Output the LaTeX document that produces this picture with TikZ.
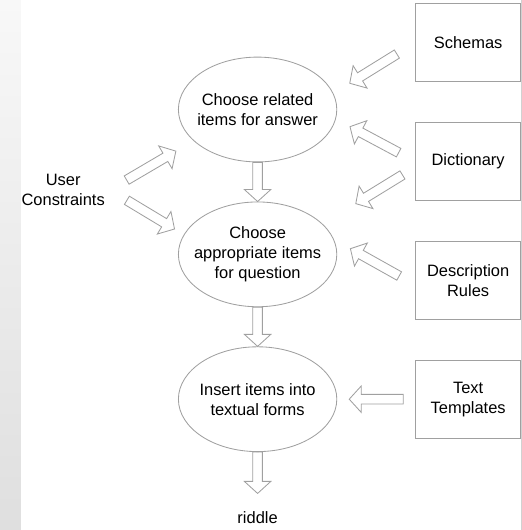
\documentclass[tikz,border=0pt]{standalone}
\usepackage{fontspec}
\setmainfont{Liberation Sans}
\usetikzlibrary{positioning,shapes.geometric,calc}

\definecolor{linegray}{HTML}{A0A0A0}
\definecolor{barlight}{HTML}{F8F8F8}
\definecolor{bardark}{HTML}{DFDFDF}

\tikzset{
  proc/.style={ellipse, draw=linegray, line width=0.6pt, minimum width=3.96cm,
    minimum height=2.62cm, inner xsep=-0.3cm, inner ysep=0pt, align=center},
  src/.style={rectangle, draw=linegray, line width=0.6pt, minimum width=2.625cm,
    minimum height=1.95cm, align=center},
  % hollow block arrow, cut back from both ends
  fat start/.store in=\fatstart, fat start=0pt,
  fat end/.store in=\fatend, fat end=0pt,
  fatarrow/.style={draw=linegray, line width=0.6pt, line join=miter,
    to path={let \p1=(\tikztostart), \p2=(\tikztotarget),
        \n1={atan2(\y2-\y1,\x2-\x1)},
        \n2={veclen(\x2-\x1,\y2-\y1)-\fatend-0.3cm} in
      ($(\p1)+(\n1:\fatstart)+({\n1-90}:0.12cm)$)
      -- ($(\p1)+(\n1:\n2)+({\n1-90}:0.12cm)$)
      -- ($(\p1)+(\n1:\n2)+({\n1-90}:0.33cm)$)
      -- ($(\p2)+({\n1+180}:\fatend)$)
      -- ($(\p1)+(\n1:\n2)+({\n1+90}:0.33cm)$)
      -- ($(\p1)+(\n1:\n2)+({\n1+90}:0.12cm)$)
      -- ($(\p1)+(\n1:\fatstart)+({\n1+90}:0.12cm)$)
      -- cycle}}
}

\begin{document}
\begin{tikzpicture}[font=\fontsize{11.7}{14.2}\selectfont]
  \useasboundingbox (0,0) rectangle (13.05,13.25);
  % side bar and right edge
  \shade[top color=barlight, bottom color=bardark] (0,0) rectangle (0.52,13.25);
  \draw[black!18, line width=0.5pt] (13.03,0) -- (13.03,13.25);

  % processing steps
  \node[proc] (ins) at (6.44,3.27) {Insert items into\\textual forms};
  \node[proc, above=0.98cm of ins] (q) {Choose\\appropriate items\\for question};
  \node[proc, above=0.98cm of q] (ans) {Choose related\\items for answer};

  % knowledge sources
  \node[src, right=1.95cm of ins] (tmpl) {Text\\Templates};
  \node[src, above=1cm of tmpl] (desc) {Description\\Rules};
  \node[src, above=1cm of desc] (dict) {Dictionary};
  \node[src, above=1cm of dict] (sch) {Schemas};

  \node[align=center] (uc) at (1.58,8.5) {User\\Constraints};
  \node[below=1.365cm of ins] (riddle) {riddle};

  % arrows into the steps
  \draw[fatarrow, fat start=0.54cm, fat end=0.48cm] (sch.west) to (ans.12);
  \draw[fatarrow, fat start=0.47cm, fat end=0.4cm] (dict.west) to (ans.353);
  \draw[fatarrow, fat start=0.375cm, fat end=0.97cm] (dict.186) to (q.25);
  \draw[fatarrow, fat start=0.46cm, fat end=0.47cm] (desc.185) to (q.11);
  \draw[fatarrow, fat start=0.3cm, fat end=0.3cm] (tmpl.west) to (ins.east);
  \draw[fatarrow, fat start=0.49cm, fat end=0.51cm] (uc.east) to (ans.206);
  \draw[fatarrow, fat start=0.5cm, fat end=0.27cm] (uc.east) to (q.165);

  % flow down the middle
  \draw[fatarrow] (ans.south) to (q.north);
  \draw[fatarrow] (q.south) to (ins.north);
  \draw[fatarrow, fat end=0.33cm] (ins.south) to (riddle.north);
\end{tikzpicture}
\end{document}
